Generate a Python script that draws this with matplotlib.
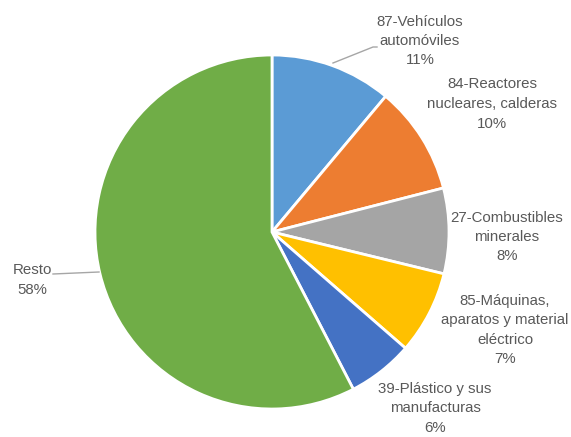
import matplotlib.pyplot as plt

labels = ["87-Vehículos\nautomóviles\n11%",
          "84-Reactores\nnucleares, calderas\n10%",
          "27-Combustibles\nminerales\n8%",
          "85-Máquinas,\naparatos y material\neléctrico\n7%",
          "39-Plástico y sus\nmanufacturas\n6%",
          "Resto\n58%"]
values = [11.1, 9.9, 7.8, 7.6, 6.0, 57.6]
colors = ["#5B9BD5", "#ED7D31", "#A5A5A5", "#FFC000", "#4472C4", "#70AD47"]

# label centres in pixel space (y measured from top)
label_pos = [(420, 41), (492, 104), (507, 237), (505, 330), (435, 408), (32, 280)]

W, H = 571, 437
fig = plt.figure(figsize=(W / 100, H / 100), dpi=100)
ax = fig.add_axes([0, 0, 1, 1])

cx, cy, r = 272, H - 232, 177
ax.pie(values, colors=colors, startangle=90, counterclock=False,
       center=(cx, cy), radius=r, frame=True,
       wedgeprops=dict(edgecolor="white", linewidth=2))
ax.set_xlim(0, W)
ax.set_ylim(0, H)
ax.set_aspect("equal")
ax.axis("off")

for txt, (x, y) in zip(labels, label_pos):
    ax.text(x, H - y, txt, ha="center", va="center", fontsize=10.8,
            color="#595959", family="Liberation Sans", linespacing=1.5)

# leader lines
ax.plot([333, 373, 377], [H - 63, H - 47, H - 47], color="#A6A6A6", lw=1)
ax.plot([53, 99], [H - 274, H - 272], color="#A6A6A6", lw=1)

fig.savefig("out.png", dpi=100, facecolor="white")
